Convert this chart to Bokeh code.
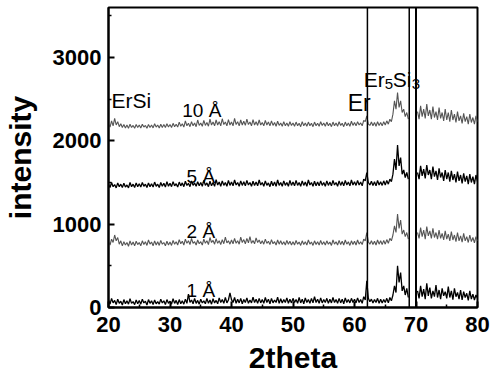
from bokeh.plotting import figure
from bokeh.models import Span, Label, FixedTicker, ColumnDataSource
from bokeh.embed import file_html
from bokeh.resources import INLINE

nan = float("nan")

# 2theta grid, 0.25 degree steps from 20 to 80 (241 points)
two_theta = [20 + 0.25 * i for i in range(241)]

int_1A = [
    90, 40, 110, 55, 85, 35, 100, 50, 75, 30, 95, 45, 80, 40, 105, 50, 70, 35, 90, 45,
    85, 40, 100, 55, 75, 30, 95, 50, 80, 35, 90, 45, 70, 40, 100, 55, 80, 35, 95, 50,
    75, 40, 105, 50, 85, 35, 95, 45, 80, 40, 100, 50, 160, 60, 90, 45, 110, 50, 85, 40,
    100, 55, 80, 45, 110, 50, 90, 40, 105, 55, 85, 45, 115, 60, 95, 50, 120, 55, 90, 175,
    95, 60, 120, 50, 100, 55, 110, 45, 95, 60, 115, 50, 90, 55, 125, 60, 100, 50, 110, 55,
    95, 50, 120, 60, 100, 45, 110, 55, 90, 60, 125, 50, 105, 55, 95, 60, 115, 50, 100, 55,
    110, 60, 95, 50, 120, 55, 100, 45, 115, 60, 95, 50, 110, 55, 130, 60, 100, 50, 115, 55,
    95, 60, 110, 50, 100, 55, 120, 60, 95, 50, 110, 55, 100, 45, 115, 60, 95, 55, 110, 60,
    100, 55, 115, 60, 95, 50, 130, 90, 320, 110, 70, 100, 55, 95, 60, 110, 50, 100, 55, 95,
    60, 110, 55, 120, 80, 150, 260, 180, 500, 300, 420, 200, 260, 150, 230, 120, nan, nan, nan, nan,
    nan, 200, 110, 260, 130, 220, 100, 290, 140, 240, 110, 200, 130, 270, 120, 210, 100, 230, 140, 190,
    110, 250, 120, 200, 95, 230, 130, 180, 100, 210, 90, 190, 120, 170, 85, 200, 100, 160, 90, 150,
    110]

int_2A = [
    790, 750, 820, 780, 870, 800, 840, 760, 800, 740, 790, 750, 780, 735, 800, 750, 785, 740, 795, 755,
    780, 740, 800, 755, 790, 745, 810, 760, 785, 740, 800, 750, 790, 745, 805, 760, 780, 740, 795, 750,
    785, 745, 805, 760, 790, 750, 815, 765, 795, 750, 820, 770, 800, 755, 830, 770, 790, 750, 810, 765,
    790, 750, 820, 770, 800, 755, 840, 780, 805, 760, 825, 770, 800, 755, 815, 765, 845, 775, 800, 760,
    810, 765, 830, 770, 800, 760, 845, 780, 815, 765, 830, 775, 850, 770, 805, 765, 835, 780, 810, 765,
    800, 760, 820, 770, 795, 755, 815, 765, 790, 750, 810, 760, 800, 755, 790, 750, 805, 760, 795, 750,
    790, 750, 805, 760, 785, 745, 800, 755, 790, 750, 810, 760, 785, 745, 800, 755, 790, 750, 805, 755,
    790, 750, 800, 760, 785, 745, 810, 760, 790, 750, 805, 755, 795, 750, 810, 760, 790, 745, 800, 755,
    795, 750, 810, 760, 790, 755, 820, 800, 900, 790, 760, 800, 755, 795, 750, 810, 760, 800, 755, 805,
    760, 815, 770, 830, 800, 870, 980, 900, 1120, 950, 1050, 880, 930, 850, 900, 820, nan, nan, nan, nan,
    nan, 900, 830, 960, 850, 930, 820, 970, 860, 920, 830, 950, 840, 900, 820, 930, 830, 890, 810, 920,
    820, 880, 800, 910, 810, 870, 790, 900, 800, 860, 785, 890, 800, 850, 780, 870, 790, 840, 775, 850,
    800]

int_5A = [
    1480, 1440, 1500, 1450, 1475, 1435, 1495, 1450, 1480, 1440, 1490, 1445, 1470, 1435, 1500, 1450, 1480, 1440, 1495, 1450,
    1485, 1445, 1500, 1455, 1480, 1440, 1495, 1450, 1485, 1445, 1505, 1455, 1480, 1440, 1500, 1455, 1490, 1445, 1510, 1455,
    1490, 1450, 1510, 1460, 1485, 1445, 1505, 1460, 1495, 1450, 1515, 1465, 1490, 1450, 1520, 1465, 1495, 1455, 1510, 1460,
    1500, 1455, 1525, 1465, 1495, 1450, 1515, 1460, 1500, 1455, 1535, 1470, 1505, 1455, 1520, 1465, 1500, 1455, 1525, 1465,
    1505, 1460, 1530, 1470, 1500, 1455, 1520, 1465, 1510, 1460, 1525, 1470, 1500, 1455, 1515, 1465, 1505, 1460, 1530, 1470,
    1500, 1455, 1520, 1465, 1495, 1450, 1515, 1460, 1505, 1455, 1530, 1465, 1500, 1455, 1520, 1465, 1500, 1455, 1525, 1465,
    1505, 1460, 1525, 1465, 1500, 1455, 1520, 1465, 1505, 1455, 1530, 1470, 1500, 1455, 1515, 1460, 1505, 1460, 1520, 1465,
    1500, 1455, 1520, 1465, 1505, 1460, 1525, 1470, 1500, 1455, 1520, 1465, 1510, 1460, 1525, 1470, 1505, 1460, 1530, 1470,
    1510, 1465, 1525, 1470, 1505, 1460, 1540, 1520, 1620, 1500, 1470, 1515, 1465, 1510, 1460, 1525, 1470, 1510, 1465, 1520,
    1470, 1525, 1480, 1540, 1510, 1600, 1780, 1650, 1950, 1700, 1800, 1600, 1650, 1560, 1620, 1540, nan, nan, nan, nan,
    nan, 1620, 1540, 1700, 1580, 1660, 1550, 1710, 1590, 1650, 1540, 1690, 1570, 1640, 1530, 1670, 1560, 1620, 1520, 1650,
    1540, 1620, 1510, 1640, 1530, 1600, 1500, 1630, 1520, 1590, 1490, 1610, 1510, 1580, 1480, 1600, 1500, 1570, 1480, 1590,
    1510]

int_10A = [
    2200, 2165, 2240, 2180, 2270, 2190, 2230, 2170, 2205, 2160, 2195, 2155, 2190, 2150, 2200, 2160, 2185, 2150, 2195, 2160,
    2190, 2155, 2200, 2165, 2185, 2150, 2195, 2160, 2190, 2155, 2205, 2165, 2190, 2155, 2200, 2160, 2195, 2160, 2205, 2165,
    2195, 2160, 2210, 2170, 2200, 2165, 2225, 2175, 2205, 2165, 2240, 2180, 2210, 2170, 2230, 2180, 2215, 2170, 2250, 2185,
    2215, 2175, 2245, 2185, 2220, 2175, 2260, 2190, 2225, 2180, 2250, 2190, 2230, 2180, 2265, 2195, 2225, 2180, 2255, 2190,
    2225, 2180, 2270, 2195, 2230, 2180, 2250, 2190, 2235, 2185, 2260, 2195, 2225, 2180, 2255, 2190, 2230, 2185, 2250, 2190,
    2220, 2180, 2245, 2190, 2225, 2180, 2240, 2185, 2220, 2175, 2235, 2185, 2215, 2175, 2230, 2180, 2215, 2175, 2230, 2185,
    2215, 2175, 2225, 2180, 2210, 2170, 2230, 2180, 2215, 2175, 2225, 2180, 2210, 2170, 2225, 2180, 2210, 2175, 2230, 2185,
    2215, 2175, 2225, 2180, 2210, 2170, 2225, 2180, 2215, 2175, 2230, 2185, 2210, 2170, 2225, 2180, 2215, 2175, 2235, 2185,
    2220, 2180, 2230, 2190, 2215, 2180, 2245, 2230, 2300, 2200, 2185, 2225, 2180, 2220, 2175, 2230, 2185, 2220, 2180, 2230,
    2190, 2240, 2200, 2260, 2230, 2320, 2480, 2380, 2580, 2400, 2480, 2340, 2380, 2290, 2340, 2260, nan, nan, nan, nan,
    nan, 2350, 2260, 2420, 2290, 2380, 2270, 2440, 2300, 2370, 2260, 2410, 2280, 2350, 2250, 2400, 2270, 2340, 2240, 2380,
    2250, 2340, 2230, 2370, 2250, 2320, 2220, 2350, 2240, 2300, 2210, 2330, 2230, 2290, 2200, 2320, 2220, 2280, 2200, 2300,
    2230]

series_names = ["1 Å", "2 Å", "5 Å", "10 Å"]
series_values = [int_1A, int_2A, int_5A, int_10A]
series_colors = ["black", "#555555", "black", "#555555"]
series_widths = [1.3, 1.1, 1.3, 1.1]

x_ticks = [20, 30, 40, 50, 60, 70, 80]
x_minor = [25, 35, 45, 55, 65, 75]
y_ticks = [0, 1000, 2000, 3000]
y_minor = [500, 1500, 2500, 3500]
marker_lines = [62.1, 68.9, 70.0]

FONT = "Liberation Sans"

p = figure(width=490, height=379, x_range=(20, 80), y_range=(0, 3600),
           output_backend="svg", toolbar_location=None,
           min_border_left=108, min_border_right=13, min_border_top=7, min_border_bottom=72)

p.xgrid.visible = False
p.ygrid.visible = False
p.outline_line_color = "black"
p.outline_line_width = 2
p.background_fill_color = "white"
p.border_fill_color = "white"

for ax in (p.xaxis[0], p.yaxis[0]):
    ax.axis_line_width = 2
    ax.major_tick_in = 6
    ax.major_tick_out = 0
    ax.minor_tick_in = 3
    ax.minor_tick_out = 0
    ax.major_tick_line_width = 2
    ax.minor_tick_line_width = 1.5
    ax.major_label_text_font = FONT
    ax.major_label_text_font_style = "bold"
    ax.major_label_text_font_size = "22px"
    ax.major_label_text_color = "black"
    ax.axis_label_text_font = FONT
    ax.axis_label_text_font_style = "bold"
    ax.axis_label_text_font_size = "30px"
    ax.axis_label_text_color = "black"

p.xaxis.ticker = FixedTicker(ticks=x_ticks, minor_ticks=x_minor)
p.yaxis.ticker = FixedTicker(ticks=y_ticks, minor_ticks=y_minor)
p.xaxis.axis_label = "2theta"
p.yaxis.axis_label = "intensity"
p.xaxis.major_label_standoff = 9
p.xaxis.axis_label_standoff = 6
p.yaxis.major_label_standoff = 7
p.yaxis.axis_label_standoff = 13

for name, vals, col, w in zip(series_names, series_values, series_colors, series_widths):
    src = ColumnDataSource(dict(x=two_theta, y=vals))
    p.line("x", "y", source=src, line_color=col, line_width=w)

for loc in marker_lines:
    p.add_layout(Span(location=loc, dimension="height", line_color="black",
                      line_width=2 if loc == 70.0 else 1.5))


def lab(text, x, y, size, xo=0, yo=0):
    p.add_layout(Label(x=x, y=y, text=text, text_font=FONT, text_font_size=size,
                       text_color="black", text_baseline="alphabetic",
                       x_offset=xo, y_offset=yo))


lab("ErSi", 20.5, 2480, "21px")
lab("10 Å", 32.0, 2370, "19px")
lab("5 Å", 32.7, 1570, "19px")
lab("2 Å", 32.7, 910, "19px")
lab("1 Å", 32.7, 210, "19px")
lab("Er", 58.9, 2450, "23px")
lab("Er", 61.5, 2740, "21px")
lab("5", 61.5, 2740, "15px", xo=21, yo=-5)
lab("Si", 61.5, 2740, "21px", xo=29)
lab("3", 61.5, 2740, "15px", xo=48, yo=-5)

open("out.html", "w").write(file_html(p, INLINE))
